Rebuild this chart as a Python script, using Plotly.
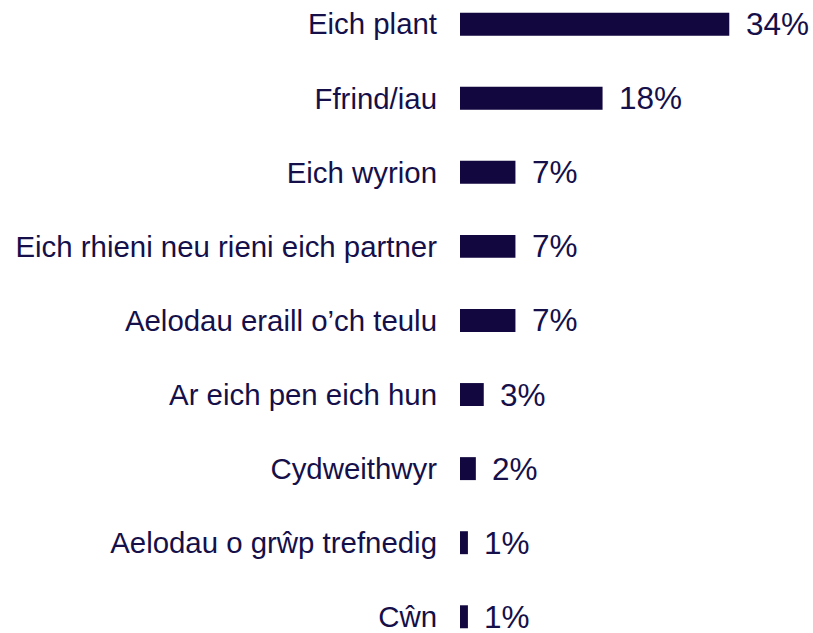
import plotly.graph_objects as go

categories = ["Eich plant", "Ffrind/iau", "Eich wyrion", "Eich rhieni neu rieni eich partner",
              "Aelodau eraill o\u2019ch teulu", "Ar eich pen eich hun", "Cydweithwyr",
              "Aelodau o gr\u0175p trefnedig", "C\u0175n"]
values = [34, 18, 7, 7, 7, 3, 2, 1, 1]
labels = [f"{v}%" for v in values]

bar_color = "#12073f"
text_color = "#15104a"
FONT = "Liberation Sans, Arial, sans-serif"

fig = go.Figure(go.Bar(
    x=values, y=categories, orientation="h",
    marker=dict(color=bar_color, line=dict(width=0)),
    width=0.31,
    hoverinfo="skip",
))

for c, v, t in zip(categories, values, labels):
    fig.add_annotation(x=v, y=c, text=t, showarrow=False, xanchor="left",
                       xshift=14.5, font=dict(size=31.5, color=text_color, family=FONT))

fig.update_layout(
    width=813, height=633,
    margin=dict(l=460, r=0, t=0, b=0),
    plot_bgcolor="white", paper_bgcolor="white",
    showlegend=False,
    font=dict(family=FONT, size=29.4, color=text_color),
    xaxis=dict(range=[0, 353 / 7.92], visible=False, fixedrange=True),
    yaxis=dict(categoryorder="array", categoryarray=categories,
               range=[8.165, -0.326], showgrid=False, zeroline=False, showline=False,
               ticks="", ticklabelstandoff=22, fixedrange=True,
               tickfont=dict(size=29.4, color=text_color, family=FONT)),
)

fig.write_html("out.html", post_script="document.body.style.margin='0';",
               config={"displayModeBar": False})
